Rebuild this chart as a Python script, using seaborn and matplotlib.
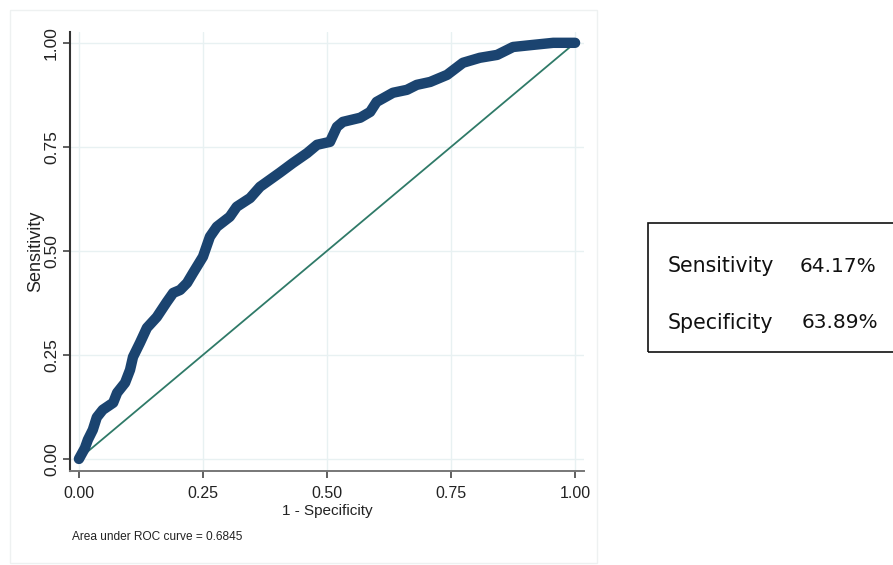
import matplotlib
matplotlib.use("Agg")
import matplotlib.pyplot as plt
from matplotlib.patches import Rectangle
import seaborn as sns
import pandas as pd

# ROC curve: 1 - specificity vs. sensitivity
fpr = [0.000, 0.012, 0.018, 0.028, 0.036, 0.048, 0.069, 0.077, 0.093, 0.103,
       0.109, 0.123, 0.137, 0.157, 0.177, 0.190, 0.204, 0.218, 0.230, 0.250,
       0.264, 0.278, 0.304, 0.318, 0.345, 0.365, 0.385, 0.405, 0.431, 0.460,
       0.480, 0.506, 0.520, 0.532, 0.567, 0.587, 0.600, 0.633, 0.661, 0.681,
       0.708, 0.742, 0.774, 0.808, 0.843, 0.875, 0.915, 0.956, 1.000]
tpr = [0.000, 0.026, 0.046, 0.070, 0.100, 0.118, 0.135, 0.159, 0.183, 0.214,
       0.245, 0.279, 0.315, 0.341, 0.377, 0.399, 0.406, 0.423, 0.447, 0.486,
       0.534, 0.558, 0.582, 0.606, 0.627, 0.654, 0.671, 0.688, 0.711, 0.735,
       0.755, 0.762, 0.798, 0.810, 0.820, 0.834, 0.858, 0.880, 0.887, 0.899,
       0.906, 0.923, 0.952, 0.964, 0.971, 0.990, 0.995, 1.000, 1.000]
ref_line = [0.0, 1.0]
ticks = [0.0, 0.25, 0.5, 0.75, 1.0]
tick_labels = ["0.00", "0.25", "0.50", "0.75", "1.00"]
auc_value = 0.6845
sensitivity_pct = 64.17
specificity_pct = 63.89

roc = pd.DataFrame({"fpr": fpr, "tpr": tpr})
diag = pd.DataFrame({"x": ref_line, "y": ref_line})

sns.set_style("white")
plt.rcParams["font.family"] = ["Liberation Sans", "DejaVu Sans"]

fig = plt.figure(figsize=(8.93, 5.65), dpi=100)
ax = fig.add_axes([70 / 893, 1 - 471 / 565, (584 - 70) / 893, (471 - 32) / 565])

# faint outer graph-region frame
fig.patches.append(Rectangle((10 / 893, 2 / 565), 587 / 893, 553 / 565,
                             transform=fig.transFigure, fill=False,
                             edgecolor="#eef1f1", linewidth=1.0, zorder=0))

ax.set_xlim(-0.018, 1.018)
ax.set_ylim(-0.029, 1.026)
ax.set_xticks(ticks)
ax.set_yticks(ticks)
ax.set_xticklabels(tick_labels, fontsize=11.5, color="#222222")
ax.set_yticklabels(tick_labels, fontsize=12.5, color="#222222",
                   rotation=90, va="center")
ax.grid(True, color="#e8f1f2", linewidth=1.0)
ax.set_axisbelow(True)

sns.lineplot(data=diag, x="x", y="y", ax=ax, color="#2f7a68",
             linewidth=1.3, sort=False)
sns.lineplot(data=roc, x="fpr", y="tpr", ax=ax, color="#1b4470",
             linewidth=7.5, sort=False, solid_capstyle="round",
             solid_joinstyle="round")

for side in ["top", "right"]:
    ax.spines[side].set_visible(False)
ax.spines["left"].set_color("#333333")
ax.spines["left"].set_linewidth(1.5)
ax.spines["bottom"].set_color("#777777")
ax.spines["bottom"].set_linewidth(1.4)
ax.tick_params(axis="both", direction="out", length=5, width=1.2,
               color="#444444", left=True, bottom=True)
ax.tick_params(axis="x", pad=6)
ax.tick_params(axis="y", pad=3)

ax.set_xlabel("1 - Specificity", fontsize=11, labelpad=2, color="#222222")
ax.set_ylabel("Sensitivity", fontsize=13, labelpad=0, color="#222222")

fig.text(72 / 893, 1 - 537 / 565, f"Area under ROC curve = {auc_value:.4f}",
         fontsize=8.6, color="#222222", va="center", ha="left")

# summary box on the right
fig.patches.append(Rectangle((648 / 893, 1 - 352 / 565), 260 / 893, 129 / 565,
                             transform=fig.transFigure, fill=False,
                             edgecolor="#111111", linewidth=1.2))
box_font = ["DejaVu Sans"]
fig.text(668 / 893, 1 - 266 / 565, "Sensitivity", fontsize=14.8,
         family=box_font, va="center", ha="left", color="#111111")
fig.text(800 / 893, 1 - 266 / 565, f"{sensitivity_pct:.2f}%", fontsize=14.5,
         family=box_font, va="center", ha="left", color="#111111")
fig.text(668 / 893, 1 - 323 / 565, "Specificity", fontsize=14.8,
         family=box_font, va="center", ha="left", color="#111111")
fig.text(802 / 893, 1 - 323 / 565, f"{specificity_pct:.2f}%", fontsize=14.5,
         family=box_font, va="center", ha="left", color="#111111")

fig.savefig("out.png", dpi=100, facecolor="white")
